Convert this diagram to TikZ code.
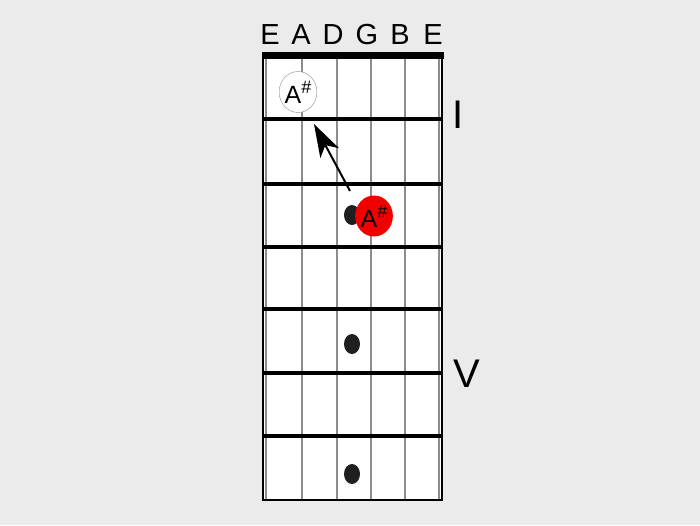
\documentclass[tikz,border=0pt]{standalone}
\usepackage{fontspec}
\setmainfont{Liberation Sans}
\usetikzlibrary{arrows.meta,shapes.geometric}
\definecolor{bggray}{HTML}{EBEBEB}
\definecolor{strgray}{HTML}{8C8C8C}
\definecolor{notered}{HTML}{F20000}
\newcommand{\sharpnote}[1]{#1\raisebox{0.75ex}{\fontsize{18}{18}\selectfont\#}}

\begin{document}
\begin{tikzpicture}[x=1pt,y=-1pt,
    fret/.style={line width=4pt,black},
    string/.style={line width=1.2pt,strgray},
    strname/.style={font=\fontsize{29}{29}\selectfont,anchor=base},
    position/.style={font=\fontsize{40}{40}\selectfont,anchor=base},
    note/.style={ellipse,draw,minimum width=37pt,minimum height=41pt,inner sep=0pt,
      font=\fontsize{25}{25}\selectfont},
    inlay/.style={ellipse,fill=black!88,minimum width=16pt,minimum height=20pt,inner sep=0pt}]
  \useasboundingbox[fill=bggray] (0,0) rectangle (700,525);
  % board
  \fill[white] (263,55) rectangle (442,500);
  \foreach \x in {302,337,371,405} \draw[string] (\x,55) -- (\x,500);
  \draw[string] (266,55) -- (266,499) (439,55) -- (439,499);
  \draw[line width=1.3pt] (263,55) -- (263,500) -- (442,500) -- (442,55);
  \foreach \y in {119,184,247,309,373,436} \draw[fret] (263,\y) -- (442,\y);
  \fill (262,52) rectangle (444,59);
  % string names
  \foreach \n/\x in {E/270,A/301,D/333,G/367,B/400,E/433}
    \node[strname] at (\x,44) {\n};
  % position marks
  \node[position] (posI) at (458,128) {I};
  \node[position] (posV) at (467,387) {V};
  % inlays
  \node[inlay] (dotIII) at (352,215) {};
  \node[inlay] (dotV) at (352,344) {};
  \node[inlay] (dotVII) at (352,474) {};
  % notes
  \node[note,draw=strgray,fill=white] (open) at (298,92) {\sharpnote{A}};
  \node[note,draw=none,fill=notered] (fretted) at (374,216) {\sharpnote{A}};
  \coordinate (tail) at (350,191);
  \coordinate (tip) at (314,124);
  \draw[line width=2pt,-{Stealth[length=33pt,width=21pt,inset=9pt]}] (tail) -- (tip);
\end{tikzpicture}
\end{document}
